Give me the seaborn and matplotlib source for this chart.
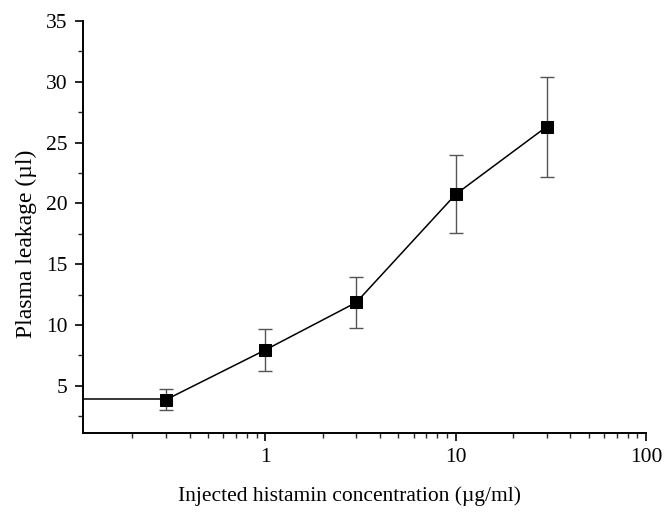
import numpy as np
import pandas as pd
import matplotlib
matplotlib.use("Agg")
import matplotlib.pyplot as plt
import seaborn as sns
from matplotlib.ticker import LogLocator, FixedLocator, MultipleLocator, NullFormatter

# Data
concentration = [0.3, 1, 3, 10, 30]          # µg/ml
leakage = [3.85, 7.95, 11.85, 20.75, 26.3]    # µl
leakage_err = [0.85, 1.7, 2.1, 3.2, 4.1]
control_leakage = 3.9                          # baseline line drawn from the axis

x_ticks = [1, 10, 100]
x_tick_labels = ["1", "10", "100"]
y_ticks = [5, 10, 15, 20, 25, 30, 35]

df = pd.DataFrame({"conc": concentration, "leak": leakage, "err": leakage_err})

sns.set_theme(style="ticks")
plt.rcParams["font.family"] = ["Liberation Serif", "DejaVu Serif"]

fig = plt.figure(figsize=(6.64, 5.12), dpi=100)
ax = fig.add_axes([0.125, 0.154, 0.848, 0.805])

xmin, xmax = 0.11, 100
ymin, ymax = 1.1, 35

ax.errorbar(df["conc"], df["leak"], yerr=df["err"], fmt="none",
            ecolor="#555555", elinewidth=1.0, capsize=5, capthick=1.0, zorder=2)
sns.lineplot(data=df, x="conc", y="leak", ax=ax, color="black", linewidth=1.1,
             marker="s", markersize=9, markeredgecolor="black",
             markerfacecolor="black", zorder=3)
ax.hlines(control_leakage, xmin, concentration[0], color="black", linewidth=1.1, zorder=2)

ax.set_xscale("log")
ax.set_xlim(xmin, xmax)
ax.set_ylim(ymin, ymax)

ax.xaxis.set_major_locator(FixedLocator(x_ticks))
ax.set_xticklabels(x_tick_labels)
ax.xaxis.set_minor_locator(LogLocator(base=10, subs=np.arange(2, 10)))
ax.xaxis.set_minor_formatter(NullFormatter())
ax.yaxis.set_major_locator(FixedLocator(y_ticks))
ax.yaxis.set_minor_locator(MultipleLocator(2.5))

ax.tick_params(axis="both", which="major", direction="out", length=6, width=1.2,
               labelsize=15.5, colors="black", pad=5)
ax.tick_params(axis="both", which="minor", direction="out", length=3.5, width=1.0)

for s in ["top", "right"]:
    ax.spines[s].set_visible(False)
for s in ["left", "bottom"]:
    ax.spines[s].set_linewidth(1.4)
    ax.spines[s].set_color("black")

ax.set_xlabel("Injected histamin concentration (µg/ml)", fontsize=15.5, color="black")
ax.set_ylabel("Plasma leakage (µl)", fontsize=17, color="black")
ax.xaxis.set_label_coords(0.473, -0.128)
ax.yaxis.set_label_coords(-0.082, 0.459)

fig.savefig("out.png", dpi=100)
